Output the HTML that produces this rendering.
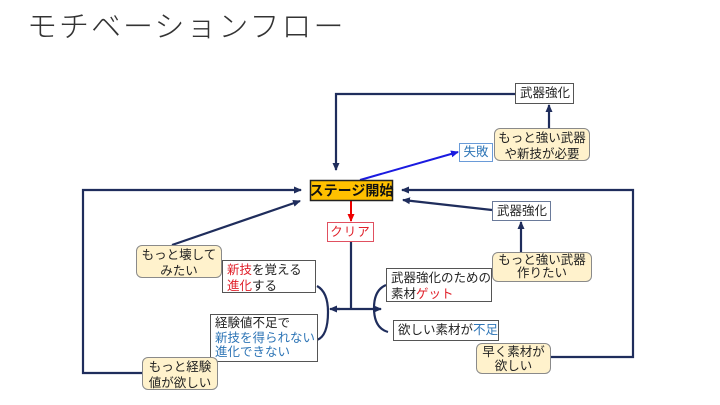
<!DOCTYPE html>
<html><head><meta charset="utf-8"><style>
html,body{margin:0;padding:0;background:#fff;}
body{width:720px;height:405px;position:relative;overflow:hidden;font-family:"Liberation Sans","Noto Sans CJK JP",sans-serif;}
.t{position:absolute;left:27px;top:2px;font-size:30px;color:#333;font-weight:300;letter-spacing:2px;white-space:nowrap;}
.b{position:absolute;box-sizing:border-box;font-size:12.5px;line-height:16px;color:#222;white-space:nowrap;}
.sq{border:1px solid #555;background:#fff;padding:1px 4px;}
.rd{border:1px solid #8a8a8a;background:#FFF2CC;border-radius:6px;text-align:center;padding:1px 2px;}
.r{color:#e0202a}.bl{color:#2e75b6}
svg{position:absolute;left:0;top:0}
</style></head><body>
<div class="t">モチベーションフロー</div>
<svg width="720" height="405">
<defs>
<marker id="a" markerUnits="userSpaceOnUse" markerWidth="8" markerHeight="8" refX="7" refY="4" orient="auto"><path d="M0,0.5 L8,4 L0,7.5z" fill="#1f2d5c"/></marker>
<marker id="ar" markerUnits="userSpaceOnUse" markerWidth="8" markerHeight="8" refX="7" refY="4" orient="auto"><path d="M0,0.5 L8,4 L0,7.5z" fill="#e00"/></marker>
<marker id="ab" markerUnits="userSpaceOnUse" markerWidth="8" markerHeight="8" refX="7" refY="4" orient="auto"><path d="M0,0.5 L8,4 L0,7.5z" fill="#1a1ae0"/></marker>
</defs>
<g fill="none" stroke="#1f2d5c" stroke-width="2.2">
<polyline points="515,94 336,94 336,170" marker-end="url(#a)"/>
<line x1="549" y1="128" x2="549" y2="105" marker-end="url(#a)"/>
<polyline points="551,357 633,357 633,190 402,190" marker-end="url(#a)"/>
<line x1="492" y1="210" x2="403" y2="200" marker-end="url(#a)"/>
<line x1="521" y1="252" x2="521" y2="222" marker-end="url(#a)"/>
<polyline points="142,373 83,373 83,190 301,190" marker-end="url(#a)"/>
<line x1="172" y1="245" x2="300" y2="201" marker-end="url(#a)"/>
<line x1="351" y1="242" x2="351" y2="309"/>
<line x1="340" y1="309" x2="330" y2="309" marker-end="url(#a)"/>
<line x1="335" y1="309" x2="381" y2="309" marker-end="url(#a)"/>
<path d="M317,286 Q328,292 328,312 Q328,336 317,340"/>
<path d="M386,285 Q374,290 374,308 Q374,328 388,332"/>
</g>
<line x1="351" y1="200" x2="351" y2="221" stroke="#e00" stroke-width="2" marker-end="url(#ar)"/>
<line x1="360" y1="180" x2="458" y2="152" stroke="#1a1ae0" stroke-width="2" marker-end="url(#ab)"/>
<rect x="310.5" y="180.5" width="82" height="20" fill="#FFC000" stroke="#222" stroke-width="1.5"/>
<text x="351.5" y="195.5" text-anchor="middle" font-size="14" font-weight="bold" fill="#111" font-family="Liberation Sans, Noto Sans CJK JP, sans-serif">ステージ開始</text>
</svg>
<div class="b" style="left:327px;top:222px;width:47px;height:20px;border:1px solid #e05060;background:#fff;color:#e0202a;text-align:center;line-height:18px;letter-spacing:1px;">クリア</div>
<div class="b" style="left:459px;top:143px;width:34px;height:19px;border:1px solid #6a9bd8;background:#fff;color:#2e75b6;text-align:center;line-height:17px;">失敗</div>
<div class="b sq" style="left:515px;top:83px;width:59px;height:21px;text-align:center;line-height:17px;">武器強化</div>
<div class="b rd" style="left:494px;top:128px;width:96px;height:33px;">もっと強い武器<br>や新技が必要</div>
<div class="b sq" style="left:492px;top:201px;width:59px;height:20px;text-align:center;line-height:16px;border-color:#6a7a9a;">武器強化</div>
<div class="b rd" style="left:492px;top:252px;width:100px;height:30px;line-height:13px;">もっと強い武器<br>作りたい</div>
<div class="b sq" style="left:386px;top:268px;width:106px;height:34px;">武器強化のための<br>素材<span class="r">ゲット</span></div>
<div class="b sq" style="left:393px;top:320px;width:106px;height:21px;line-height:17px;">欲しい素材が<span class="bl">不足</span></div>
<div class="b rd" style="left:476px;top:343px;width:75px;height:31px;line-height:14px;">早く素材が<br>欲しい</div>
<div class="b rd" style="left:136px;top:245px;width:86px;height:33px;">もっと壊して<br>みたい</div>
<div class="b sq" style="left:222px;top:260px;width:94px;height:33px;"><span class="r">新技</span>を覚える<br><span class="r">進化</span>する</div>
<div class="b sq" style="left:210px;top:314px;width:108px;height:48px;line-height:14.5px;">経験値不足で<br><span class="bl">新技を得られない<br>進化できない</span></div>
<div class="b rd" style="left:142px;top:357px;width:76px;height:33px;">もっと経験<br>値が欲しい</div>
</body></html>
